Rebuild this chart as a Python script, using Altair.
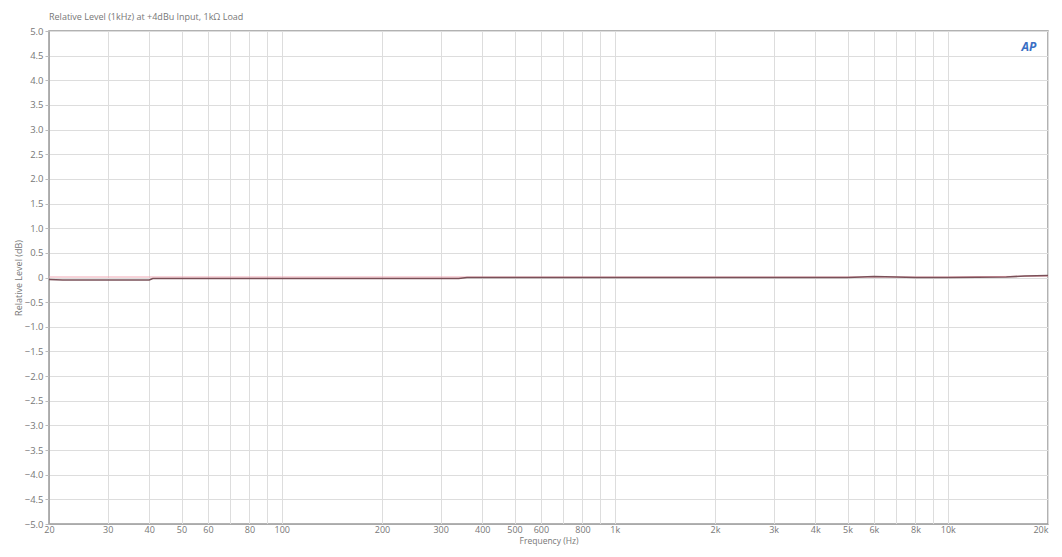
import altair as alt
import pandas as pd

# Data
freq_dark = [20, 22, 24, 30, 40, 41, 60, 100, 200, 340, 360, 600, 1000, 2000, 5000, 5500, 6000, 7000, 8000, 10000, 15000, 17000, 20000]
level_dark = [-0.04, -0.05, -0.05, -0.05, -0.05, -0.02, -0.02, -0.02, -0.02, -0.02, 0.0, 0.0, 0.0, 0.0, 0.0, 0.01, 0.02, 0.01, 0.0, 0.0, 0.01, 0.03, 0.04]
freq_pink = [20, 100, 1000, 10000, 20000]
level_pink = [0.01, 0.01, 0.01, 0.01, 0.03]

grid_ticks = [20, 30, 40, 50, 60, 70, 80, 90, 100, 200, 300, 400, 500, 600, 700, 800, 900,
              1000, 2000, 3000, 4000, 5000, 6000, 7000, 8000, 9000, 10000, 20000]
label_ticks = [20, 30, 40, 50, 60, 80, 100, 200, 300, 400, 500, 600, 800,
               1000, 2000, 3000, 4000, 5000, 6000, 8000, 10000, 20000]
y_ticks = [-5 + 0.5 * i for i in range(21)]

df = pd.concat([
    pd.DataFrame({"f": freq_pink, "lvl": level_pink, "ch": "B"}),
    pd.DataFrame({"f": freq_dark, "lvl": level_dark, "ch": "A"}),
])

FONT = "Open Sans"
GRAY = "#777777"

label_list = ",".join(str(v) for v in label_ticks)
x_axis = alt.Axis(
    values=grid_ticks,
    labelExpr=f"indexof([{label_list}], datum.value) >= 0 ? (datum.value >= 1000 ? (datum.value/1000) + 'k' : '' + datum.value) : ''",
    grid=True, gridColor="#dddddd", gridWidth=1,
    ticks=False, domainColor="#aaaaaa", labelColor=GRAY, labelFontSize=9, labelFont=FONT,
    labelPadding=1, labelFlush=False,
    labelAlign={"condition": {"test": "datum.value == 20000", "value": "right"}, "value": "center"},
    title="Frequency (Hz)", titleFont=FONT, titleFontSize=8.5, titleFontWeight="normal",
    titleColor=GRAY, titlePadding=2,
)
y_axis = alt.Axis(
    values=y_ticks,
    labelExpr="datum.value == 0 ? '0' : format(datum.value, '.1f')",
    grid=True, gridColor="#dddddd", gridWidth=1,
    ticks=True, tickSize=4, tickColor="#bbbbbb", domainColor="#aaaaaa",
    labelColor=GRAY, labelFontSize=9.5, labelFont=FONT, labelPadding=2,
    title="Relative Level (dB)", titleFont=FONT, titleFontSize=9, titleFontWeight="normal",
    titleColor=GRAY, titlePadding=1,
)

lines = alt.Chart(df).mark_line(interpolate="linear").encode(
    x=alt.X("f:Q", scale=alt.Scale(type="log", domain=[20, 20000], nice=False), axis=x_axis),
    y=alt.Y("lvl:Q", scale=alt.Scale(domain=[-5, 5], nice=False), axis=y_axis),
    color=alt.Color("ch:N", scale=alt.Scale(domain=["A", "B"], range=["#7a5058", "#f0a8b4"]), legend=None),
    strokeWidth=alt.StrokeWidth("ch:N", scale=alt.Scale(domain=["A", "B"], range=[1.6, 1.0]), legend=None),
    order=alt.Order("ch:N", sort="descending"),
)

logo = alt.Chart(pd.DataFrame({"t": ["AP"]})).mark_text(
    font=FONT, fontSize=12, fontStyle="italic", fontWeight="bold", color="#3a6fc4"
).encode(x=alt.value(980), y=alt.value(16), text="t:N")

chart = alt.layer(lines, logo).properties(
    width=999, height=493,
    title=alt.TitleParams("Relative Level (1kHz) at +4dBu Input, 1kΩ Load", anchor="start", frame="group",
                          font=FONT, fontSize=9, fontWeight="normal", color=GRAY, offset=4),
    autosize=alt.AutoSizeParams(type="none"),
    padding={"left": 41, "top": 23, "right": 5, "bottom": 25},
).configure_view(stroke="#999999", strokeWidth=1.5)

chart.save("out.html", embed_options={"renderer": "svg", "actions": False})
